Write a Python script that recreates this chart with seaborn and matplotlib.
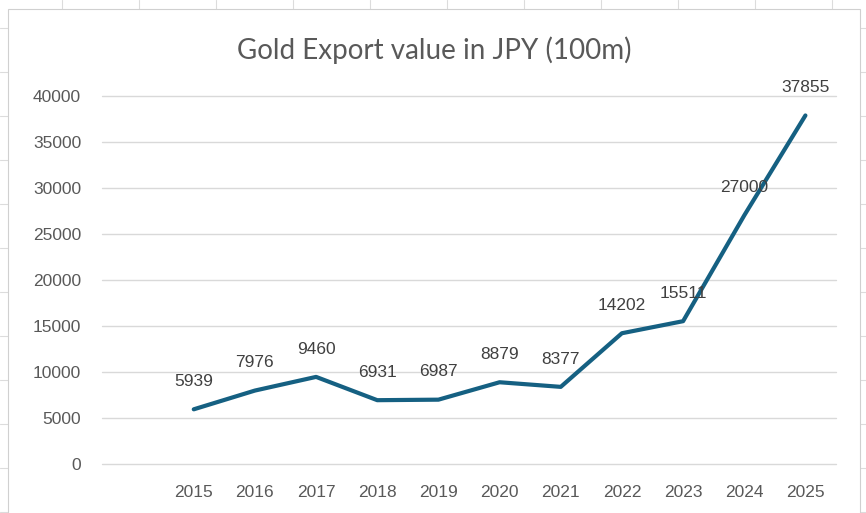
import pandas as pd
import matplotlib.pyplot as plt
import seaborn as sns
from matplotlib.lines import Line2D
from matplotlib.patches import Rectangle

# data
years = [2015, 2016, 2017, 2018, 2019, 2020, 2021, 2022, 2023, 2024, 2025]
export_value = [5939, 7976, 9460, 6931, 6987, 8879, 8377, 14202, 15511, 27000, 37855]
y_ticks = [0, 5000, 10000, 15000, 20000, 25000, 30000, 35000, 40000]

df = pd.DataFrame({'year': years, 'value': export_value})

sns.set_theme(style='white')
plt.rcParams['font.family'] = ['Liberation Sans', 'DejaVu Sans']

W, H = 866, 513
fig = plt.figure(figsize=(W / 100, H / 100), dpi=100)

# spreadsheet cells peeking out around the chart box
grid_c = '#dcdcdc'
for x in range(62, W, 77):
    fig.add_artist(Line2D([x / W, x / W], [1 - 9 / H, 1], color=grid_c, lw=0.8, zorder=-2))
for y in range(28, H, 44):
    fig.add_artist(Line2D([0, 8 / W], [1 - y / H, 1 - y / H], color=grid_c, lw=0.8, zorder=-2))
    fig.add_artist(Line2D([860 / W, 1], [1 - y / H, 1 - y / H], color=grid_c, lw=0.8, zorder=-2))
fig.add_artist(Rectangle((8 / W, -0.01), (860 - 8) / W, 1 - 9 / H + 0.01,
                         transform=fig.transFigure, facecolor='white',
                         edgecolor='#d0d0d0', lw=0.8, zorder=-1))

ax = fig.add_axes([102 / W, 1 - 464 / H, 734 / W, (464 - 95.7) / H])
ax.set_facecolor('none')

sns.lineplot(data=df, x='year', y='value', ax=ax, color='#156082',
             linewidth=3.0, solid_capstyle='round', solid_joinstyle='round')

# data labels above points
for yr, v in zip(years, export_value):
    ax.annotate(f'{v}', (yr, v), xytext=(0, 20), textcoords='offset points',
                ha='center', va='center', fontsize=12.5, color='#404040')

ax.set_xlim(2013.5, 2025.5)
ax.set_ylim(0, 40000)
ax.set_xticks(years)
ax.set_xticklabels([str(y) for y in years])
ax.set_yticks(y_ticks)
ax.set_yticklabels([str(t) for t in y_ticks])
ax.tick_params(axis='both', length=0, labelsize=12.5, labelcolor='#595959')
ax.tick_params(axis='y', pad=15)
ax.tick_params(axis='x', pad=15)
ax.grid(axis='y', color='#d9d9d9', linewidth=1)
for gl in ax.get_ygridlines():
    gl.set_clip_on(False)
ax.set_axisbelow(True)
for s in ax.spines.values():
    s.set_visible(False)
ax.set_xlabel('')
ax.set_ylabel('')

fig.text(434 / W, 1 - 50 / H, 'Gold Export value in JPY (100m)', ha='center', va='center',
         fontsize=20, color='#595959', family=['Lato', 'DejaVu Sans'])

plt.savefig('out.png', dpi=100)
